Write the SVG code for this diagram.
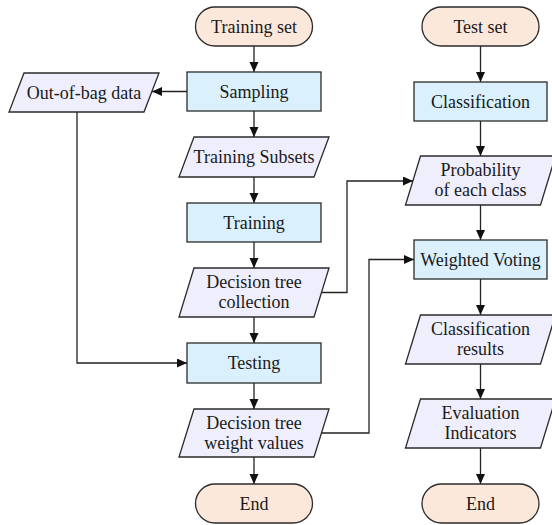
<svg xmlns="http://www.w3.org/2000/svg" width="552" height="525" viewBox="0 0 552 525">
<defs>
<marker id="arr" markerUnits="userSpaceOnUse" markerWidth="11" markerHeight="10" refX="10" refY="4.5" orient="auto">
<path d="M0,0 L10,4.5 L0,9 z" fill="#111"/>
</marker>
<style>
.term{fill:#FCE8DB;stroke:#2b2b2b;stroke-width:1.3}
.proc{fill:#DAF0FC;stroke:#2b2b2b;stroke-width:1.3}
.data{fill:#EEEEFC;stroke:#2b2b2b;stroke-width:1.3}
text{font-family:"Liberation Serif","Times New Roman",serif;font-size:18px;fill:#1a1a1a;text-anchor:middle}
.c{fill:none;stroke:#222;stroke-width:1.3;marker-end:url(#arr)}
</style>
</defs>
<rect width="552" height="525" fill="#fff"/>
<g id="connectors">
<path class="c" d="M254,46 V72"/>
<path class="c" d="M254,111 V137"/>
<path class="c" d="M254,177 V203"/>
<path class="c" d="M254,242 V268"/>
<path class="c" d="M254,317 V343"/>
<path class="c" d="M254,383 V409"/>
<path class="c" d="M254,457 V484"/>
<path class="c" d="M187,91.5 H152"/>
<path class="c" d="M77,112 V363 H187"/>
<path class="c" d="M321.5,292.5 H347 V181 H413"/>
<path class="c" d="M321.5,433 H369 V259.5 H414"/>
<path class="c" d="M480.5,46 V82"/>
<path class="c" d="M480.5,121 V156"/>
<path class="c" d="M480.5,205 V240"/>
<path class="c" d="M480.5,279 V315"/>
<path class="c" d="M480.5,364 V399"/>
<path class="c" d="M480.5,448 V484"/>
</g>
<g id="training-set"><rect class="term" x="195.5" y="7" width="117" height="39" rx="19.5"/><text x="254" y="32.5">Training set</text></g>
<g id="sampling"><rect class="proc" x="187" y="72" width="134" height="39"/><text x="254" y="97.5">Sampling</text></g>
<g id="out-of-bag"><polygon class="data" points="24,73 159,73 144,112 9,112"/><text x="84" y="98.5">Out-of-bag data</text></g>
<g id="training-subsets"><polygon class="data" points="194,137 329,137 314,177 179,177"/><text x="254" y="163">Training Subsets</text></g>
<g id="training"><rect class="proc" x="187" y="203" width="134" height="39"/><text x="254" y="228.5">Training</text></g>
<g id="dt-collection"><polygon class="data" points="194,268 329,268 314,317 179,317"/><text x="254" y="288">Decision tree</text><text x="254" y="308">collection</text></g>
<g id="testing"><rect class="proc" x="187" y="343" width="134" height="40"/><text x="254" y="369">Testing</text></g>
<g id="dt-weights"><polygon class="data" points="194,409 329,409 314,457 179,457"/><text x="254" y="428.5">Decision tree</text><text x="254" y="448.5">weight values</text></g>
<g id="end-left"><rect class="term" x="195.5" y="484" width="117" height="39" rx="19.5"/><text x="254" y="509.5">End</text></g>
<g id="test-set"><rect class="term" x="422" y="7" width="117" height="39" rx="19.5"/><text x="480.5" y="32.5">Test set</text></g>
<g id="classification"><rect class="proc" x="414" y="82" width="133" height="39"/><text x="480.5" y="107.5">Classification</text></g>
<g id="probability"><polygon class="data" points="420.5,156 555.5,156 540.5,205 405.5,205"/><text x="480.5" y="176">Probability</text><text x="480.5" y="196">of each class</text></g>
<g id="weighted-voting"><rect class="proc" x="414" y="240" width="133" height="39"/><text x="480.5" y="265.5">Weighted Voting</text></g>
<g id="class-results"><polygon class="data" points="420.5,315 555.5,315 540.5,364 405.5,364"/><text x="480.5" y="335">Classification</text><text x="480.5" y="355">results</text></g>
<g id="evaluation"><polygon class="data" points="420.5,399 555.5,399 540.5,448 405.5,448"/><text x="480.5" y="419">Evaluation</text><text x="480.5" y="439">Indicators</text></g>
<g id="end-right"><rect class="term" x="422" y="484" width="117" height="39" rx="19.5"/><text x="480.5" y="509.5">End</text></g>
</svg>
